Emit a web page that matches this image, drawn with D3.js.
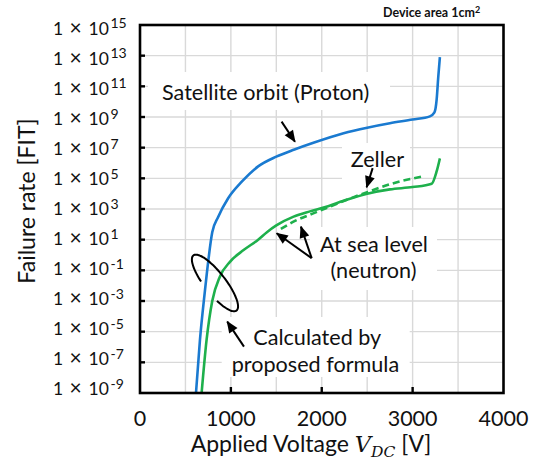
<!DOCTYPE html>
<html>
<head>
<meta charset="utf-8">
<script src="https://cdn.jsdelivr.net/npm/d3@7"></script>
<style>
  html, body { margin: 0; padding: 0; background: #fff; }
  svg { display: block; font-family: Lato, "Open Sans", sans-serif; }
</style>
</head>
<body>
<script>
// Failure rate vs applied DC voltage (device area 1 cm²)

// Satellite orbit (proton) – calculated by proposed formula
const protonVoltage = [616, 660, 715, 735, 795, 860, 970, 1120, 1300, 1500, 1700, 1900, 2240, 2500, 2750, 3000, 3190, 3240, 3264, 3282, 3300];
const protonFit     = [1e-9, 3e-6, 5e-3, 6e-2, 30, 300, 5e3, 6e4, 6e5, 2.6e6, 7.6e6, 2e7, 8.7e7, 2e8, 3.9e8, 6.8e8, 1.1e9, 2e9, 1.3e10, 4e11, 8e12];

// At sea level (neutron) – calculated by proposed formula
const neutronVoltage = [678, 733, 795, 880, 990, 1140, 1300, 1400, 1500, 1690, 1870, 2050, 2240, 2500, 2750, 3000, 3210, 3264, 3300];
const neutronFit     = [1e-9, 3e-6, 1e-3, 4e-2, 0.36, 2.1, 10, 32, 85, 316, 700, 1.4e3, 3.4e3, 1e4, 1.9e4, 2.7e4, 4.5e4, 2.8e5, 2e6];

// At sea level (neutron) – Zeller
const zellerVoltage = [1550, 1700, 1900, 2100, 2300, 2500, 2800, 3100];
const zellerFit     = [50, 160, 500, 1.5e3, 4.5e3, 1.26e4, 5e4, 1.3e5];

// Axis ticks
const xTicks = [0, 1000, 2000, 3000, 4000];
const xGrid = [500, 1000, 1500, 2000, 2500, 3000, 3500];
const yExponents = [15, 13, 11, 9, 7, 5, 3, 1, -1, -3, -5, -7, -9];

const W = 538, H = 461;
const svg = d3.select("body").append("svg").attr("width", W).attr("height", H);

const x = d3.scaleLinear().domain([0, 4000]).range([140, 503.5]);
const y = d3.scaleLog().domain([1e-9, 1e15]).range([393, 25]);
// tick-label placement (labels sit on a slightly tighter pitch than the grid)
const yLab = d3.scaleLog().domain([1e-9, 1e15]).range([389, 28.5]);

const [x0, x1] = x.range();
const [yB, yT] = y.range();

// gridlines
const grid = svg.append("g").attr("stroke", "#d9d9d9").attr("stroke-width", 1.4);
grid.selectAll("line.v").data(xGrid).join("line")
  .attr("x1", d => x(d)).attr("x2", d => x(d)).attr("y1", yT).attr("y2", yB);
grid.selectAll("line.h").data(yExponents.filter(e => e > -9 && e < 15)).join("line")
  .attr("x1", x0).attr("x2", x1).attr("y1", e => y(Math.pow(10, e))).attr("y2", e => y(Math.pow(10, e)));

// white label boxes
const boxes = [
  {x: 148, y: 72, w: 242, h: 38},
  {x: 342, y: 143, w: 68, h: 37},
  {x: 310, y: 227, w: 127, h: 63},
  {x: 221.7, y: 317, w: 188, h: 60}
];
svg.append("g").selectAll("rect").data(boxes).join("rect")
  .attr("x", d => d.x).attr("y", d => d.y).attr("width", d => d.w).attr("height", d => d.h)
  .attr("fill", "#fff");

// series
svg.append("clipPath").attr("id", "plot").append("rect")
  .attr("x", x0).attr("y", yT).attr("width", x1 - x0).attr("height", yB - yT);

const line = d3.line().x(d => x(d[0])).y(d => y(d[1])).curve(d3.curveMonotoneX);
const series = [
  {v: protonVoltage, f: protonFit, color: "#1a7ad0", dash: null},
  {v: neutronVoltage, f: neutronFit, color: "#1eb04c", dash: null},
  {v: zellerVoltage, f: zellerFit, color: "#1eb04c", dash: "7,4"}
];
svg.append("g").attr("clip-path", "url(#plot)").selectAll("path").data(series).join("path")
  .attr("d", s => line(d3.zip(s.v, s.f)))
  .attr("fill", "none").attr("stroke", s => s.color).attr("stroke-width", 2.6)
  .attr("stroke-dasharray", s => s.dash);

// frame and ticks
svg.append("rect").attr("x", x0).attr("y", yT).attr("width", x1 - x0).attr("height", yB - yT)
  .attr("fill", "none").attr("stroke", "#000").attr("stroke-width", 2.6);
svg.append("g").selectAll("line").data(yExponents.filter(e => e > -9 && e < 15)).join("line")
  .attr("x1", x0).attr("x2", x0 + 5).attr("y1", e => y(Math.pow(10, e))).attr("y2", e => y(Math.pow(10, e)))
  .attr("stroke", "#000").attr("stroke-width", 2.4);
svg.append("g").selectAll("line").data(xTicks.filter(d => d > 0 && d < 4000)).join("line")
  .attr("x1", d => x(d)).attr("x2", d => x(d)).attr("y1", yB).attr("y2", yB - 6)
  .attr("stroke", "#000").attr("stroke-width", 2.4);

// y tick labels: 1 × 10^n
const yl = svg.append("g").attr("font-size", 17.5).attr("fill", "#111");
yExponents.forEach(e => {
  const base = yLab(Math.pow(10, e)) + 6.2;
  const t = yl.append("text").attr("y", base);
  t.append("tspan").attr("x", 53).text("1");
  t.append("tspan").attr("x", 69.5).attr("font-size", 21).text("×");
  t.append("tspan").attr("x", 88.5).text("10");
  t.append("tspan").attr("x", 110.5).attr("font-size", 14).attr("dy", -6.3).text(String(e));
});

// x tick labels
svg.append("g").attr("font-size", 21.5).attr("fill", "#111").attr("text-anchor", "middle")
  .selectAll("text").data(xTicks).join("text")
  .attr("x", d => x(d)).attr("y", 425.5).text(d => d);

// axis titles
svg.append("text").attr("transform", "translate(35,201) rotate(-90)")
  .attr("text-anchor", "middle").attr("font-size", 23).attr("fill", "#111")
  .text("Failure rate [FIT]");
const xt = svg.append("text").attr("x", 311).attr("y", 451.7).attr("text-anchor", "middle")
  .attr("font-size", 23).attr("fill", "#111");
xt.append("tspan").text("Applied Voltage ");
xt.append("tspan").attr("font-family", "'DejaVu Serif', serif").attr("font-style", "italic").attr("font-size", 22.5).text("V");
xt.append("tspan").attr("font-family", "'DejaVu Serif', serif").attr("font-style", "italic").attr("font-size", 15.5).attr("dy", 5).text("DC");
xt.append("tspan").attr("dy", -5).text(" [V]");

// device area note
const da = svg.append("text").attr("x", 383).attr("y", 16.7).attr("font-size", 12.5)
  .attr("font-weight", "bold").attr("fill", "#111");
da.append("tspan").text("Device area 1cm");
da.append("tspan").attr("font-size", 9).attr("dy", -4).text("2");

// annotation text
const notes = [
  {t: "Satellite orbit (Proton)", x: 162, y: 100, a: "start"},
  {t: "Zeller", x: 350.7, y: 166.7, a: "start"},
  {t: "At sea level", x: 374, y: 251.7, a: "middle"},
  {t: "(neutron)", x: 373.5, y: 278.3, a: "middle"},
  {t: "Calculated by", x: 253.3, y: 345, a: "start"},
  {t: "proposed formula", x: 231.7, y: 371.7, a: "start"}
];
svg.append("g").attr("font-size", 21.6).attr("fill", "#111").selectAll("text").data(notes).join("text")
  .attr("x", d => d.x).attr("y", d => d.y).attr("text-anchor", d => d.a).text(d => d.t);

// arrows (start and tip in data units)
svg.append("defs").append("marker").attr("id", "head")
  .attr("markerUnits", "userSpaceOnUse").attr("markerWidth", 14).attr("markerHeight", 12)
  .attr("viewBox", "0 -6 12 12").attr("refX", 11).attr("refY", 0).attr("orient", "auto")
  .append("path").attr("d", "M0,-5L12,0L0,5Z").attr("fill", "#000");
const arrows = [
  {from: [1558, 5e8], to: [1705, 2.45e7]},
  {from: [2560, 4.6e5], to: [2494, 2.6e4]},
  {from: [1889, 0.62], to: [1504, 26]},
  {from: [1889, 0.62], to: [1771, 71]},
  {from: [1144, 1.05e-6], to: [960, 4.5e-5]}
];
svg.append("g").selectAll("line").data(arrows).join("line")
  .attr("x1", d => x(d.from[0])).attr("y1", d => y(d.from[1]))
  .attr("x2", d => x(d.to[0])).attr("y2", d => y(d.to[1]))
  .attr("stroke", "#000").attr("stroke-width", 2).attr("marker-end", "url(#head)");

// open ellipse grouping the two calculated curves
const ell = {v: 825, f: 1.5e-2, a: 35, b: 10.5, rot: 52, start: 106, end: 425};
const cx = x(ell.v), cy = y(ell.f), r = ell.rot * Math.PI / 180;
const pts = d3.range(ell.start, ell.end + 1, 3).map(deg => {
  const t = deg * Math.PI / 180;
  const u = ell.a * Math.cos(t), w = ell.b * Math.sin(t);
  return [cx + u * Math.cos(r) - w * Math.sin(r), cy + u * Math.sin(r) + w * Math.cos(r)];
});
svg.append("path").attr("d", d3.line().curve(d3.curveBasis)(pts))
  .attr("fill", "none").attr("stroke", "#000").attr("stroke-width", 2);
</script>
</body>
</html>
